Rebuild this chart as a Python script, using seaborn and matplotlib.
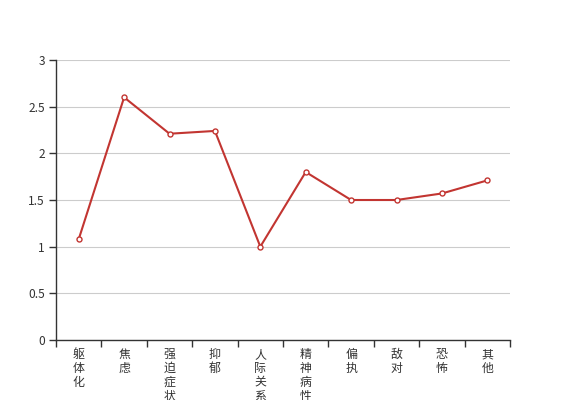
import pandas as pd
import seaborn as sns
import matplotlib.pyplot as plt
import matplotlib.ticker as ticker

categories = ['躯体化', '焦虑', '强迫症状', '抑郁', '人际关系敏感',
              '精神病性', '偏执', '敌对', '恐怖', '其他']
scores = [1.08, 2.60, 2.21, 2.24, 1.00, 1.80, 1.50, 1.50, 1.57, 1.71]

df = pd.DataFrame({'pos': range(len(categories)), 'score': scores})

sns.set_style('white')
plt.rcParams['font.family'] = ['Noto Sans CJK SC', 'DejaVu Sans']

fig = plt.figure(figsize=(5.67, 4), dpi=100)
ax = fig.add_axes([0.0988, 0.15, 0.8007, 0.70])

sns.lineplot(data=df, x='pos', y='score', ax=ax, color='#c23531', linewidth=1.5,
             marker='o', markersize=3.6, markerfacecolor='white',
             markeredgecolor='#c23531', markeredgewidth=1)

n = len(categories)
ax.set_xlim(-0.5, n - 0.5)
ax.set_ylim(0, 3)
ax.set_xlabel('')
ax.set_ylabel('')

# ticks on band boundaries, labels in band centres
ax.set_xticks([i - 0.5 for i in range(n + 1)])
ax.set_xticklabels([])
ax.set_xticks(list(range(n)), minor=True)
ax.set_xticklabels(['\n'.join(c) for c in categories], minor=True,
                   fontsize=8.6, color='#333333', linespacing=1.08, va='top')
ax.tick_params(axis='x', which='major', bottom=True, direction='out', length=5,
               width=1, color='#333333')
ax.tick_params(axis='x', which='minor', bottom=True, length=0, pad=6)

ax.set_yticks([0, 0.5, 1, 1.5, 2, 2.5, 3])
ax.yaxis.set_major_formatter(ticker.FuncFormatter(lambda v, p: '{:g}'.format(v)))
ax.tick_params(axis='y', left=True, direction='out', length=5, width=1, color='#333333',
               labelsize=8.6, labelcolor='#333333', pad=3)

ax.grid(axis='y', color='#cccccc', linewidth=0.8)
ax.set_axisbelow(True)
for side in ['top', 'right']:
    ax.spines[side].set_visible(False)
for side in ['left', 'bottom']:
    ax.spines[side].set_color('#333333')
    ax.spines[side].set_linewidth(1)

fig.savefig('out.png', dpi=100)
